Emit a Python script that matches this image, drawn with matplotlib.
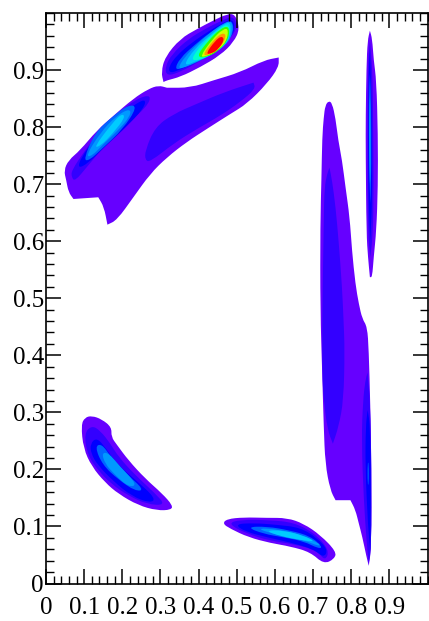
#!/usr/bin/env python3
# contour map rebuilt from level outlines
import numpy as np
import matplotlib
matplotlib.use("Agg")
import matplotlib.pyplot as plt
from matplotlib.patches import PathPatch
from matplotlib.path import Path
from matplotlib.ticker import MultipleLocator

plt.rcParams["font.family"] = ["Liberation Serif", "DejaVu Serif"]

LEVEL_COLORS = ["#6600ff", "#3300ff", "#0000ff", "#0066ff", "#0099ff", "#00ccff",
                "#00ffcc", "#33ff00", "#ccff00", "#ff9900", "#ff0000"]

TICKS = [0, 0.1, 0.2, 0.3, 0.4, 0.5, 0.6, 0.7, 0.8, 0.9]
TICK_LABELS = ["0", "0.1", "0.2", "0.3", "0.4", "0.5", "0.6", "0.7", "0.8", "0.9"]

# top blob, outermost level first
TOP_BLOB = [
    [(.308,.879),(.308,.879),(.302,.896),(.312,.923),(.352,.955),(.396,.972),(.439,.987),(.474,.998),(.496,.998),
     (.508,.972),(.492,.949),(.457,.926),(.404,.905),(.352,.888),(.317,.882)],
    [(.317,.889),(.312,.905),(.330,.928),(.374,.955),(.417,.972),(.461,.987),(.492,.995),(.501,.975),
     (.483,.955),(.448,.934),(.400,.914),(.356,.898)],
    [(.325,.894),(.321,.905),(.343,.926),(.382,.948),(.426,.968),(.465,.983),(.489,.990),(.496,.972),
     (.479,.953),(.444,.933),(.400,.916),(.356,.902)],
    [(.337,.900),(.350,.920),(.391,.945),(.430,.966),(.465,.980),(.487,.988),(.493,.969),(.476,.948),
     (.439,.930),(.400,.917),(.361,.904)],
    [(.345,.902),(.362,.922),(.400,.948),(.435,.968),(.465,.982),(.487,.987),(.490,.966),(.474,.945),
     (.435,.927),(.396,.914),(.365,.905)],
    [(.358,.906),(.390,.938),(.432,.962),(.468,.982),(.486,.983),(.481,.950),(.437,.927),(.396,.916)],
    [(.378,.918),(.412,.948),(.450,.970),(.476,.982),(.484,.968),(.468,.943),(.430,.926),(.400,.917)],
    [(.392,.922),(.426,.952),(.456,.972),(.480,.978),(.480,.956),(.456,.936),(.426,.923)],
    [(.403,.923),(.436,.954),(.464,.972),(.479,.972),(.472,.948),(.446,.933),(.420,.924)],
    [(.409,.925),(.437,.951),(.462,.966),(.474,.960),(.456,.938),(.430,.927)],
    [(.418,.928),(.443,.951),(.460,.960),(.468,.953),(.451,.936),(.434,.929)],
]

SWOOSH_OUTER = [(.047,.724),(.059,.742),(.089,.759),(.133,.794),(.177,.820),(.229,.850),(.269,.867),
                (.295,.873),(.317,.869),(.317,.869),(.378,.869),(.439,.882),(.509,.896),(.571,.917),(.610,.922),(.610,.922),
                (.610,.905),(.579,.876),(.527,.841),(.483,.823),(.422,.797),(.369,.774),(.317,.747),
                (.273,.718),(.229,.677),(.186,.637),(.161,.629),(.161,.629),(.152,.660),(.137,.677),(.137,.677),(.072,.674),(.072,.674),
                (.059,.686),(.053,.707)]
SWOOSH_RIGHT = [(.260,.742),(.260,.759),(.286,.800),(.334,.823),(.396,.841),(.466,.861),(.544,.878),(.544,.878),
                (.549,.867),(.509,.844),(.457,.820),(.396,.797),(.334,.771),(.273,.739)]
SWOOSH_LEFT = [
    [(.067,.712),(.067,.724),(.102,.759),(.142,.794),(.186,.823),(.238,.850),(.277,.857),(.264,.835),
     (.212,.806),(.151,.765),(.107,.730),(.076,.705)],
    [(.083,.727),(.092,.747),(.131,.782),(.175,.814),(.220,.834),(.262,.851),(.257,.833),(.207,.798),
     (.155,.766),(.111,.737)],
    [(.098,.743),(.128,.790),(.175,.819),(.216,.839),(.240,.836),(.201,.796),(.150,.764),(.113,.741)],
    [(.104,.749),(.142,.790),(.183,.819),(.220,.833),(.222,.820),(.187,.793),(.150,.770),(.120,.749)],
    [(.125,.764),(.175,.808),(.199,.824),(.208,.817),(.175,.789),(.143,.767)],
]

SPINDLE = [
    [(.849,.969),(.849,.969),(.855,.955),(.859,.917),(.866,.882),(.870,.788),(.870,.695),(.866,.619),(.859,.572),
     (.855,.537),(.849,.537),(.849,.537),(.844,.572),(.840,.613),(.838,.753),(.838,.818),(.840,.905),(.843,.952)],
    [(.849,.952),(.849,.952),(.855,.905),(.857,.847),(.859,.695),(.857,.613),(.850,.572),(.850,.572),(.844,.613),(.843,.730),
     (.843,.905)],
    [(.849,.934),(.849,.934),(.852,.876),(.855,.759),(.855,.671),(.850,.601),(.850,.601),(.846,.660),(.844,.759),(.846,.905)],
    [(.849,.893),(.849,.893),(.852,.847),(.853,.730),(.850,.666),(.850,.666),(.847,.730),(.846,.847)],
    [(.849,.855),(.849,.855),(.851,.800),(.851,.718),(.849,.701),(.849,.701),(.847,.759),(.847,.817)],
]

SWATH_OUTER = [(.741,.846),(.750,.842),(.759,.815),(.766,.777),(.776,.742),(.785,.695),(.796,.642),
               (.802,.584),(.811,.525),(.820,.490),(.829,.464),(.842,.450),(.846,.409),(.850,.315),
               (.853,.204),(.853,.064),(.846,.031),(.846,.031),(.840,.047),(.829,.082),(.820,.105),(.811,.129),
               (.798,.146),(.798,.146),(.759,.146),(.759,.146),(.745,.164),(.732,.210),(.728,.275),(.724,.368),(.719,.479),
               (.719,.631),(.722,.709),(.724,.782),(.728,.817),(.732,.838)]
SWATH_MID = [(.743,.729),(.743,.729),(.750,.706),(.759,.660),(.767,.601),(.776,.520),(.780,.461),(.783,.409),
             (.780,.321),(.767,.275),(.752,.245),(.752,.245),(.738,.269),(.728,.321),(.724,.368),(.724,.461),
             (.728,.636),(.730,.695),(.737,.718)]
SWATH_RIGHT = [
    [(.843,.370),(.843,.370),(.850,.315),(.853,.204),(.853,.064),(.846,.035),(.846,.035),(.840,.076),(.833,.146),(.827,.251),
     (.831,.321),(.837,.356)],
    [(.843,.304),(.843,.304),(.850,.275),(.852,.146),(.850,.058),(.850,.058),(.844,.099),(.837,.204),(.838,.275)],
    [(.843,.212),(.846,.212),(.846,.173),(.843,.173)],
]

LOWER_LEFT = [
    [(.092,.278),(.102,.291),(.120,.294),(.146,.288),(.172,.274),(.171,.257),(.186,.243),(.216,.216),
     (.260,.184),(.304,.158),(.332,.137),(.328,.129),(.291,.128),(.242,.137),(.190,.157),(.155,.177),
     (.120,.205),(.098,.237)],
    [(.100,.263),(.120,.277),(.142,.268),(.168,.246),(.190,.222),(.234,.190),(.286,.158),(.314,.137),
     (.264,.139),(.216,.154),(.172,.174),(.137,.198),(.109,.225)],
    [(.116,.245),(.133,.256),(.157,.237),(.188,.208),(.236,.181),(.288,.149),(.273,.141),(.225,.153),
     (.177,.179),(.135,.208),(.118,.228)],
    [(.128,.240),(.146,.245),(.170,.222),(.209,.193),(.258,.164),(.234,.162),(.190,.182),(.148,.208)],
    [(.146,.229),(.164,.229),(.194,.205),(.240,.173),(.216,.169),(.177,.193),(.155,.210)],
]

LOWER_RIGHT = [
    [(.463,.105),(.474,.113),(.518,.116),(.579,.115),(.632,.115),(.675,.105),(.719,.085),(.761,.056),
     (.756,.043),(.728,.034),(.693,.055),(.640,.065),(.588,.071),(.531,.081),(.483,.096)],
    [(.476,.105),(.509,.112),(.588,.111),(.649,.107),(.702,.089),(.743,.059),(.732,.039),(.710,.058),
     (.649,.069),(.588,.075),(.527,.087)],
    [(.494,.104),(.544,.106),(.605,.103),(.667,.098),(.710,.080),(.739,.059),(.728,.045),(.702,.060),
     (.640,.072),(.579,.081),(.522,.091)],
    [(.525,.099),(.579,.100),(.640,.093),(.693,.083),(.725,.064),(.715,.061),(.675,.074),(.623,.081),
     (.570,.087)],
    [(.555,.097),(.605,.095),(.667,.086),(.717,.070),(.717,.065),(.675,.076),(.623,.084),(.579,.090)],
    [(.573,.093),(.623,.093),(.675,.084),(.708,.073),(.667,.076),(.614,.083)],
]


def draw_levels(ax, outlines, start=0):
    """Fill nested outlines as rounded curves, each one a level up from the last."""
    for i, outline in enumerate(outlines):
        pts = np.array(outline)
        mids = (pts + np.roll(pts, -1, axis=0)) / 2
        verts = [mids[-1]]
        codes = [Path.MOVETO]
        for ctrl, end in zip(pts, mids):
            verts += [ctrl, end]
            codes += [Path.CURVE3, Path.CURVE3]
        ax.add_patch(PathPatch(Path(verts, codes), facecolor=LEVEL_COLORS[start + i],
                               edgecolor="none", linewidth=0))


fig = plt.figure(figsize=(4.29, 6.21), dpi=100)
ax = fig.add_axes([46 / 429, 37.5 / 621, 381.5 / 429, 570.5 / 621])

draw_levels(ax, TOP_BLOB)
draw_levels(ax, [SWOOSH_OUTER])
draw_levels(ax, [SWOOSH_RIGHT], start=1)
draw_levels(ax, SWOOSH_LEFT, start=1)
draw_levels(ax, SPINDLE)
draw_levels(ax, [SWATH_OUTER])
draw_levels(ax, [SWATH_MID], start=1)
draw_levels(ax, SWATH_RIGHT, start=1)
draw_levels(ax, LOWER_LEFT)
draw_levels(ax, LOWER_RIGHT)

ax.set_xlim(0, 1)
ax.set_ylim(0, 1)
ax.set_xticks(TICKS)
ax.set_xticklabels(TICK_LABELS)
ax.set_yticks(TICKS)
ax.set_yticklabels(TICK_LABELS)
ax.xaxis.set_minor_locator(MultipleLocator(0.02))
ax.yaxis.set_minor_locator(MultipleLocator(0.02))
ax.tick_params(which="major", direction="in", top=True, right=True, length=11, width=1.1,
               labelsize=18)
ax.tick_params(which="minor", direction="in", top=True, right=True, length=5.5, width=1.0)
ax.tick_params(axis="x", which="major", pad=10)
ax.tick_params(axis="y", which="major", pad=1.5)
for side in ax.spines.values():
    side.set_linewidth(1.2)
    side.set_zorder(5)

fig.savefig("out.png", dpi=100)
plt.close(fig)
